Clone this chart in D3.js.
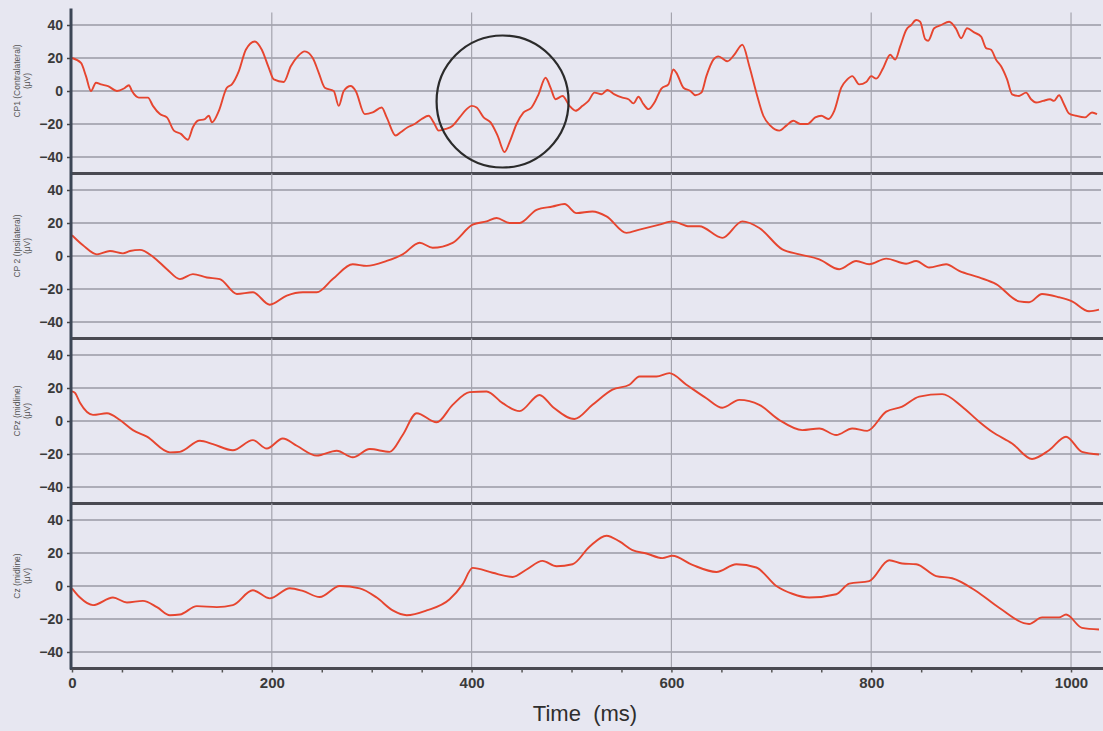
<!DOCTYPE html>
<html>
<head>
<meta charset="utf-8">
<script src="https://cdn.jsdelivr.net/npm/d3@7"></script>
<style>
  body { margin: 0; background: #e7e7f1; }
  svg { display: block; }
  .tick text { font-family: "Liberation Sans", Arial, sans-serif; }
</style>
</head>
<body>
<svg width="1103" height="731"></svg>
<script>
const svg = d3.select("svg"),
    width = +svg.attr("width"),
    height = +svg.attr("height");

// channel labels
const channels = ["CP1 (Contralateral)", "CP 2 (Ipsilateral)", "CPz (midline)", "Cz (midline)"];
const unitLabel = "(\u03bcV)";
const xTicks = [0, 200, 400, 600, 800, 1000];
const yTicks = [-40, -20, 0, 20, 40];

// traces (ms, µV)
const cp1T = [0,9,14,19,24,29,36,45,52,57,60,67,76,81,88,95,102,109,116,121,126,133,137,140,147,155,160,167,174,183,190,197,202,212,219,226,233,241,247,253,262,267,272,279,284,293,301,310,315,324,329,336,343,350,357,362,367,374,381,388,395,400,405,412,419,426,433,438,445,452,460,467,474,479,484,491,498,504,511,517,523,530,536,543,551,557,562,567,572,577,583,590,597,602,605,612,619,624,630,635,642,647,656,663,671,678,685,692,699,708,715,722,729,736,744,750,757,763,770,776,781,788,795,800,805,812,819,824,829,835,840,845,849,854,857,863,870,878,885,890,896,903,910,915,920,925,930,936,941,948,955,960,965,972,979,983,988,993,998,1005,1014,1021,1026,1031];
const cp1V = [20,17,9,0,5,4,3,0,1.5,3.5,0,-4,-4,-9,-14,-16,-24,-26,-29.5,-22,-18,-17,-15,-19,-12,2,4,12,25,30,25,14,7,5.5,15,21,24,20,11,2,0,-9,0,3,0,-14,-13,-10,-16,-27,-25,-22,-20,-17,-15,-19,-24,-23,-21,-16,-11,-9,-10,-16,-19,-27,-37,-31,-20,-13,-10,-2,8,2,-5,-3,-9,-12,-9,-6,-1,-2,0.6,-2,-4,-5,-7.5,-3.5,-8,-11,-7,1.5,4,13,11,2,0,-2.6,-1,9,19,21,18,22,28,15,-1,-15,-21,-24,-21,-18,-20,-20,-16,-15,-17,-12,2,7,9,4,5.5,9,7.5,14,22,19,27,37,40,43,42,31.5,30.5,38,40,42,37.6,32,38,35.5,33,26,25,19,15,7,-2,-3,-1,-5,-7,-6,-5,-6,-2.6,-8,-13.6,-15,-16,-13,-14,-11];

const cp2T = [0,11,25,38,51,58,68,81,95,108,121,135,148,165,181,198,215,231,245,261,281,295,315,331,348,361,381,401,415,425,438,448,465,481,493,505,521,535,555,568,588,601,618,628,651,671,688,711,728,748,768,785,798,815,835,845,858,875,888,908,925,948,958,971,988,1001,1018,1028,1033];
const cp2V = [12.6,6.5,1,3,1.6,3,3.7,-0.4,-8,-14,-11,-13,-14,-23,-22,-29.5,-24,-22,-22,-14,-5,-6,-3,1,8,5,8,19,21,23,20,20,28,30,31.5,26,27,24,14,16,19,21,18,18,11,21,17,4,1,-2,-8,-3,-5,-1.6,-4.7,-3,-7,-5,-9,-13,-17,-27.5,-28,-23,-25,-27.5,-33.5,-32.5,-29];

const cpzT = [0,3,8,21,35,48,61,75,98,108,128,141,161,181,195,211,225,245,265,281,298,318,331,345,365,381,398,415,431,448,468,481,503,521,541,558,568,585,598,615,635,651,668,688,708,731,748,765,781,796,815,831,848,871,891,908,921,941,961,978,995,1011,1028,1033];
const cpzV = [18,17,11,3.7,4.7,0.6,-5.5,-9.5,-19,-18.7,-12,-14,-17.7,-11.6,-16.7,-10.6,-15,-21,-18,-22,-17,-18.7,-8.5,4.7,-0.8,9.8,17.5,17.9,10.8,6,15.8,8.7,1.2,9.8,19,22,27,27,29,22,13.8,8,12.8,9.8,0.6,-5.5,-4.5,-8.5,-4.5,-6,5.7,8.7,14.8,16.3,8.7,-0.4,-6.5,-13.6,-23,-17.7,-9.5,-18.7,-20.3,-20];

const czT = [0,8,21,41,55,71,85,98,108,125,145,161,181,198,218,231,248,268,288,305,321,335,355,378,391,401,421,441,455,471,485,501,518,535,548,561,575,591,601,621,645,665,685,705,721,738,765,778,798,818,831,845,865,881,905,928,958,971,988,995,1011,1028,1033];
const czV = [-1.4,-7,-11.6,-7,-10,-9,-12.8,-17.7,-17.3,-12.2,-12.8,-11.6,-2.6,-7.5,-1.4,-3,-6.7,0,-1.4,-7,-14.8,-17.7,-14.8,-8,1,11,8,5.5,10,15.2,12,13.2,23.8,30.5,27,21.7,19.7,16.9,18.3,12.8,8.5,13.2,11.2,0,-4.7,-7,-5,1.4,3,15.6,13.6,13.2,6,4.7,-3,-13.2,-23,-19,-19,-17.3,-25.4,-26.4,-26];

const traces = [[cp1T, cp1V], [cp2T, cp2V], [cpzT, cpzV], [czT, czV]];

// layout
const left = 72, right = 1101;
const top0 = 8.5, panelH = 165;

const x = d3.scaleLinear().domain([0, 1030]).range([left, right]);

svg.append("rect").attr("width", width).attr("height", height).attr("fill", "#e7e7f1");

channels.forEach(function(name, i) {
  const top = top0 + i * panelH;
  const y = d3.scaleLinear().domain([-50, 50]).range([top + panelH, top]);
  const g = svg.append("g");

  // horizontal grid
  g.selectAll(".hgrid").data(yTicks).enter()
    .append("line")
    .attr("x1", left).attr("x2", right)
    .attr("y1", d => y(d)).attr("y2", d => y(d))
    .attr("stroke", "#9a9aa4").attr("stroke-width", 1.4);

  // vertical grid
  g.selectAll(".vgrid").data(xTicks.filter(d => d > 0)).enter()
    .append("line")
    .attr("x1", d => x(d)).attr("x2", d => x(d))
    .attr("y1", i == 0 ? top + 4 : top).attr("y2", top + panelH)
    .attr("stroke", "#a4a4ae").attr("stroke-width", 1.2);

  // y axis
  const yAxis = g.append("g")
    .attr("transform", `translate(${left - 1},0)`)
    .call(d3.axisLeft(y).tickValues(yTicks).tickSize(4).tickPadding(3));
  yAxis.select(".domain").remove();
  yAxis.selectAll(".tick line").attr("stroke", "#444").attr("stroke-width", 1.5);
  yAxis.selectAll(".tick text")
    .attr("font-size", 14).attr("font-weight", "bold").attr("fill", "#3a3a3a")
    .attr("dx", -1);

  // channel label
  const lbl = g.append("text")
    .attr("transform", `translate(20,${y(0) - 10}) rotate(-90)`)
    .attr("text-anchor", "middle")
    .attr("font-family", "Liberation Sans, Arial, sans-serif")
    .attr("font-size", 8.5)
    .attr("fill", "#555");
  lbl.append("tspan").attr("x", 0).attr("dy", 0).text(name);
  lbl.append("tspan").attr("x", 0).attr("dy", 10).text(unitLabel);

  // trace
  const t = traces[i][0], v = traces[i][1];
  const line = d3.line()
    .x(d => x(d[0]))
    .y(d => y(d[1]))
    .curve(d3.curveMonotoneX);
  g.append("path")
    .datum(d3.zip(t, v).filter(d => d[0] <= 1030))
    .attr("d", line)
    .attr("fill", "none")
    .attr("stroke", "#e6452f")
    .attr("stroke-width", 1.9)
    .attr("stroke-linejoin", "round");

  // panel bottom border
  g.append("line")
    .attr("x1", left - 2).attr("x2", right + 2)
    .attr("y1", top + panelH).attr("y2", top + panelH)
    .attr("stroke", "#4a4a52").attr("stroke-width", 3);
});

// left axis spine
svg.append("line")
  .attr("x1", left - 1).attr("x2", left - 1)
  .attr("y1", top0).attr("y2", top0 + 4 * panelH + 1)
  .attr("stroke", "#3c4656").attr("stroke-width", 3);

// x axis
const bottom = top0 + 4 * panelH;
const xAxis = svg.append("g")
  .attr("transform", `translate(0,${bottom + 1})`)
  .call(d3.axisBottom(x).tickValues(d3.range(0, 1031, 50)).tickSize(3).tickPadding(5)
    .tickFormat(d => xTicks.includes(d) ? d : ""));
xAxis.select(".domain").remove();
xAxis.selectAll(".tick line").attr("stroke", "#555").attr("stroke-width", 1.5);
xAxis.selectAll(".tick text")
  .attr("font-size", 15).attr("fill", "#3a3a3a").attr("font-weight", "bold");

svg.append("text")
  .attr("x", 585).attr("y", 721)
  .attr("text-anchor", "middle")
  .attr("font-family", "Liberation Sans, Arial, sans-serif")
  .attr("font-size", 22)
  .attr("fill", "#2e2e2e")
  .attr("xml:space", "preserve")
  .style("white-space", "pre")
  .text("Time  (ms)");

// highlight circle around the CP1 dip
svg.append("circle")
  .attr("cx", x(431)).attr("cy", 101.5)
  .attr("r", 66)
  .attr("fill", "none")
  .attr("stroke", "#2b2b2b")
  .attr("stroke-width", 2.2);
</script>
</body>
</html>
